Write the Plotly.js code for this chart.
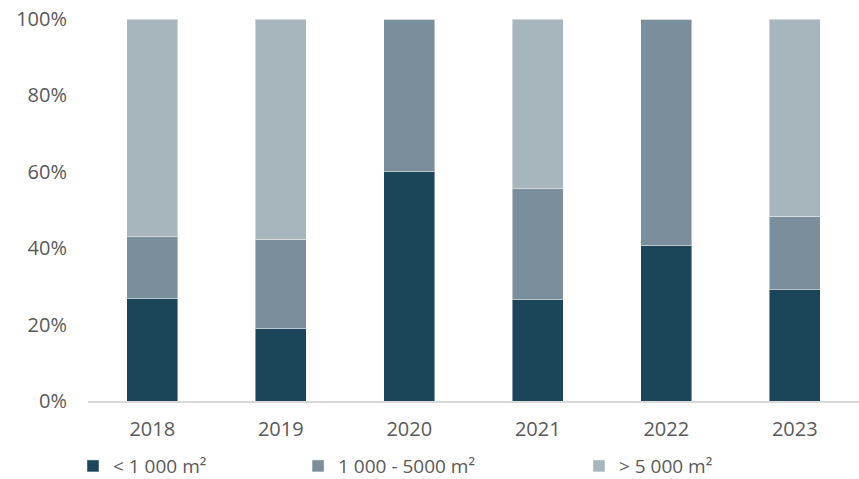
<!DOCTYPE html>
<html><head><meta charset="utf-8">
<script src="https://cdn.plot.ly/plotly-3.0.1.min.js"></script>
<style>html,body{margin:0;padding:0;background:#fff}#c{width:859px;height:479px}</style>
</head><body><div id="c"></div>
<script>
const years = ['2018','2019','2020','2021','2022','2023'];
const small = [26.9, 19.0, 60.2, 26.5, 40.8, 29.1];
const medium = [16.1, 23.3, 39.8, 29.0, 59.2, 19.3];
const large = [57.0, 57.7, 0, 44.5, 0, 51.6];
const names = ['< 1 000 m²', '1 000 - 5000 m²', '> 5 000 m²'];
const colors = ['#1B4559', '#7A8F9B', '#A7B5BD'];
const FONT = '"Open Sans", Lato, sans-serif';
const series = [small, medium, large];
const legends = ['legend', 'legend2', 'legend3'];
const traces = series.map((s, i) => ({
  type: 'bar', x: years, y: s, name: names[i],
  marker: {color: colors[i], line: {color: 'rgba(255,255,255,0.45)', width: 1}},
  legend: legends[i], hoverinfo: 'skip'
}));
const legBase = {orientation: 'h', yanchor: 'middle', xanchor: 'left',
  xref: 'container', yref: 'container', y: 0.027,
  font: {family: FONT, size: 19, color: '#595959'}, bgcolor: 'rgba(0,0,0,0)',
  itemwidth: 30, tracegroupgap: 0};
const layout = {
  width: 859, height: 479,
  margin: {l: 88, r: 0, t: 19, b: 78},
  barmode: 'stack', bargap: 0.6,
  paper_bgcolor: '#fff', plot_bgcolor: '#fff',
  font: {family: FONT, size: 20, color: '#595959'},
  showlegend: true,
  xaxis: {type: 'category', showline: true, linecolor: '#D9D9D9', linewidth: 2,
    ticks: '', showgrid: false, ticklabelstandoff: 9,
    tickfont: {family: FONT, size: 20, color: '#595959'}},
  yaxis: {range: [0, 100], dtick: 20, ticksuffix: '%', showgrid: false, zeroline: false,
    showline: false, ticks: '', ticklabelstandoff: 20,
    tickfont: {family: FONT, size: 20, color: '#595959'}},
  legend: Object.assign({}, legBase, {x: 0.085}),
  legend2: Object.assign({}, legBase, {x: 0.347}),
  legend3: Object.assign({}, legBase, {x: 0.674})
};
Plotly.newPlot('c', traces, layout, {displayModeBar: false, staticPlot: true});
</script></body></html>
